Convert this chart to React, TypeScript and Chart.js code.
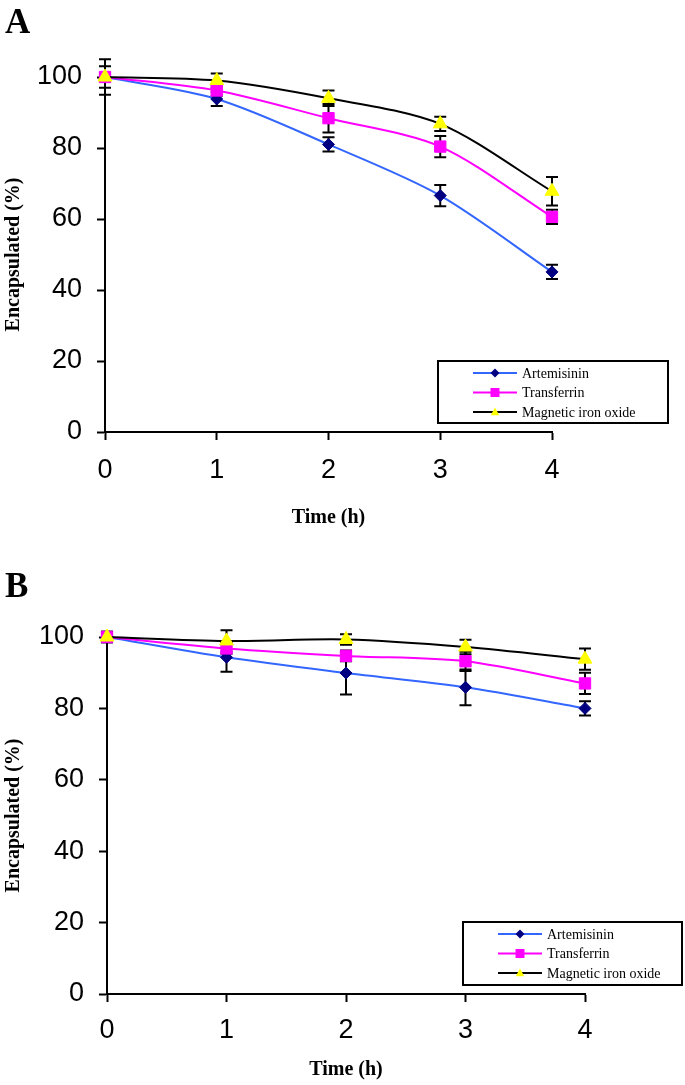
import React, { useEffect, useRef } from "react";
import { Chart, registerables } from "chart.js";

Chart.register(...registerables);

// ---------- data ----------
const timePoints = [0, 1, 2, 3, 4];
const seriesLabels = ["Artemisinin", "Transferrin", "Magnetic iron oxide"];
const xAxisTitle = "Time (h)";
const yAxisTitle = "Encapsulated (%)";

// Panel A
const artemisininA = [100, 93.8, 81.0, 66.6, 45.1];
const transferrinA = [100, 96.2, 88.4, 80.4, 60.6];
const magneticA = [100, 99.0, 94.0, 86.8, 67.8];
const artemisininErrA = [5, 2, 2, 3, 2];
const transferrinErrA = [3, 1.5, 4, 3, 2];
const magneticErrA = [1, 2, 2.2, 2, 4];

// Panel B
const artemisininB = [100, 94.3, 89.9, 85.9, 80.0];
const transferrinB = [100, 96.8, 94.7, 93.2, 87.0];
const magneticB = [100, 98.9, 99.3, 97.2, 93.8];
const artemisininErrB = [1.5, 4, 6, 5, 2];
const transferrinErrB = [1.5, 1.5, 1.5, 2.7, 3];
const magneticErrB = [1, 3, 1.5, 2, 3];

// ---------- styles ----------
const lineColors = ["#3366FF", "#FF00FF", "#000000"];
const markerColors = ["#000080", "#FF00FF", "#FFFF00"];
const pointStyles = ["rectRot", "rect", "triangle"];
const pointRadii = [6, 8, 8];

const errorBarsPlugin = {
  id: "errorBars",
  beforeDatasetsDraw(chart: any) {
    const { ctx, scales } = chart;
    const x = scales.x;
    const y = scales.y;
    ctx.save();
    ctx.strokeStyle = "#000";
    ctx.lineWidth = 2;
    chart.data.datasets.forEach((ds: any) => {
      const errs = ds.errors;
      if (!errs) return;
      ds.data.forEach((p: any, i: number) => {
        const e = errs[i];
        if (!e) return;
        const px = x.getPixelForValue(p.x);
        const top = y.getPixelForValue(p.y + e);
        const bot = y.getPixelForValue(p.y - e);
        ctx.beginPath();
        ctx.moveTo(px, top);
        ctx.lineTo(px, bot);
        ctx.moveTo(px - 6, top);
        ctx.lineTo(px + 6, top);
        ctx.moveTo(px - 6, bot);
        ctx.lineTo(px + 6, bot);
        ctx.stroke();
      });
    });
    ctx.restore();
  },
};

function drawMarker(ctx: any, style: string, cx: number, cy: number, r: number, color: string) {
  ctx.fillStyle = color;
  ctx.beginPath();
  if (style === "rectRot") {
    ctx.moveTo(cx, cy - r);
    ctx.lineTo(cx + r, cy);
    ctx.lineTo(cx, cy + r);
    ctx.lineTo(cx - r, cy);
  } else if (style === "rect") {
    ctx.rect(cx - r, cy - r, 2 * r, 2 * r);
  } else {
    ctx.moveTo(cx, cy - r);
    ctx.lineTo(cx + r * 0.95, cy + r * 0.7);
    ctx.lineTo(cx - r * 0.95, cy + r * 0.7);
  }
  ctx.closePath();
  ctx.fill();
}

const boxLegendPlugin = {
  id: "boxLegend",
  afterDraw(chart: any, _args: any, opts: any) {
    const { ctx } = chart;
    const { left, top, width, height, firstRow, rowGap } = opts;
    ctx.save();
    ctx.fillStyle = "#fff";
    ctx.fillRect(left, top, width, height);
    ctx.strokeStyle = "#000";
    ctx.lineWidth = 2;
    ctx.strokeRect(left, top, width, height);
    chart.data.datasets.forEach((ds: any, i: number) => {
      const cy = top + firstRow + i * rowGap;
      const x0 = left + 35;
      const x1 = left + 79;
      ctx.strokeStyle = ds.borderColor;
      ctx.lineWidth = 2;
      ctx.beginPath();
      ctx.moveTo(x0, cy);
      ctx.lineTo(x1, cy);
      ctx.stroke();
      drawMarker(ctx, ds.pointStyle, (x0 + x1) / 2, cy, 4.5, ds.pointBackgroundColor);
      ctx.fillStyle = "#000";
      ctx.font = "14px 'Liberation Serif'";
      ctx.textAlign = "left";
      ctx.textBaseline = "middle";
      ctx.fillText(ds.label, left + 84, cy + 1);
    });
    ctx.restore();
  },
};

const panelLabelPlugin = {
  id: "panelLabel",
  afterDraw(chart: any, _args: any, opts: any) {
    const { ctx } = chart;
    ctx.save();
    ctx.fillStyle = "#000";
    ctx.font = "bold 35px 'Liberation Serif'";
    ctx.textAlign = "left";
    ctx.textBaseline = "alphabetic";
    ctx.fillText(opts.text, opts.x, opts.y);
    ctx.restore();
  },
};

type Panel = {
  name: string;
  top: number;
  height: number;
  padding: { left: number; top: number; right: number; bottom: number };
  yScaleWidth: number;
  xScaleHeight: number;
  xTickPad: number;
  xTitlePadBottom: number;
  labelY: number;
  legend: { left: number; top: number; width: number; height: number; firstRow: number; rowGap: number };
  values: number[][];
  errors: number[][];
};

const panels: Panel[] = [
  {
    name: "A",
    top: 0,
    height: 545,
    padding: { left: 0, top: 77, right: 133, bottom: 13 },
    yScaleWidth: 105,
    xScaleHeight: 100,
    xTickPad: 14,
    xTitlePadBottom: 2,
    labelY: 33,
    legend: { left: 438, top: 361, width: 230, height: 62, firstRow: 12, rowGap: 19.5 },
    values: [artemisininA, transferrinA, magneticA],
    errors: [artemisininErrA, transferrinErrA, magneticErrA],
  },
  {
    name: "B",
    top: 545,
    height: 540,
    padding: { left: 0, top: 92, right: 100, bottom: 3 },
    yScaleWidth: 107,
    xScaleHeight: 88,
    xTickPad: 12,
    xTitlePadBottom: 0,
    labelY: 52,
    legend: { left: 463, top: 377, width: 219, height: 63, firstRow: 12, rowGap: 19.5 },
    values: [artemisininB, transferrinB, magneticB],
    errors: [artemisininErrB, transferrinErrB, magneticErrB],
  },
];

function PanelChart({ panel }: { panel: Panel }) {
  const ref = useRef<HTMLCanvasElement | null>(null);
  useEffect(() => {
    if (!ref.current) return;
    const datasets = seriesLabels.map((label, i) => ({
      label,
      data: timePoints.map((t, j) => ({ x: t, y: panel.values[i][j] })),
      errors: panel.errors[i],
      borderColor: lineColors[i],
      backgroundColor: markerColors[i],
      pointBackgroundColor: markerColors[i],
      pointBorderColor: markerColors[i],
      pointBorderWidth: 1,
      pointStyle: pointStyles[i],
      pointRadius: pointRadii[i],
      borderWidth: 2,
      tension: 0.3,
      clip: false,
      order: 2 - i,
    }));
    const tickFont = { family: "'Liberation Sans', Arial, sans-serif", size: 27 };
    const titleFont = { family: "'Liberation Serif', serif", size: 20, weight: "bold" };
    const chart = new Chart(ref.current, {
      type: "line",
      data: { datasets: datasets as any },
      plugins: [errorBarsPlugin, boxLegendPlugin, panelLabelPlugin],
      options: {
        animation: false,
        responsive: false,
        devicePixelRatio: 1,
        layout: { padding: panel.padding },
        plugins: {
          legend: { display: false },
          tooltip: { enabled: false },
          boxLegend: panel.legend,
          panelLabel: { text: panel.name, x: 5, y: panel.labelY },
        } as any,
        scales: {
          x: {
            type: "linear",
            min: 0,
            max: 4,
            ticks: { stepSize: 1, color: "#000", padding: panel.xTickPad, font: tickFont },
            grid: { drawOnChartArea: false, drawTicks: true, tickLength: 8, tickColor: "#000", tickWidth: 2 },
            border: { display: true, color: "#000", width: 2 },
            title: {
              display: true,
              text: xAxisTitle,
              color: "#000",
              font: titleFont,
              padding: { top: 0, bottom: panel.xTitlePadBottom },
            },
            afterFit: (s: any) => {
              s.height = panel.xScaleHeight;
            },
          },
          y: {
            type: "linear",
            min: 0,
            max: 100,
            ticks: { stepSize: 20, color: "#000", padding: 15, font: tickFont },
            grid: { drawOnChartArea: false, drawTicks: true, tickLength: 8, tickColor: "#000", tickWidth: 2 },
            border: { display: true, color: "#000", width: 2 },
            title: {
              display: true,
              text: yAxisTitle,
              color: "#000",
              font: titleFont,
              padding: { top: 2, bottom: 0 },
            },
            afterFit: (s: any) => {
              s.width = panel.yScaleWidth;
            },
          },
        },
      } as any,
    });
    return () => chart.destroy();
  }, [panel]);
  return (
    <div style={{ position: "absolute", left: 0, top: panel.top, width: 685, height: panel.height }}>
      <canvas ref={ref} width={685} height={panel.height} style={{ display: "block" }} />
    </div>
  );
}

export default function App() {
  return (
    <div style={{ position: "absolute", left: 0, top: 0, width: 685, height: 1085, background: "#fff" }}>
      {panels.map((p) => (
        <PanelChart key={p.name} panel={p} />
      ))}
    </div>
  );
}
